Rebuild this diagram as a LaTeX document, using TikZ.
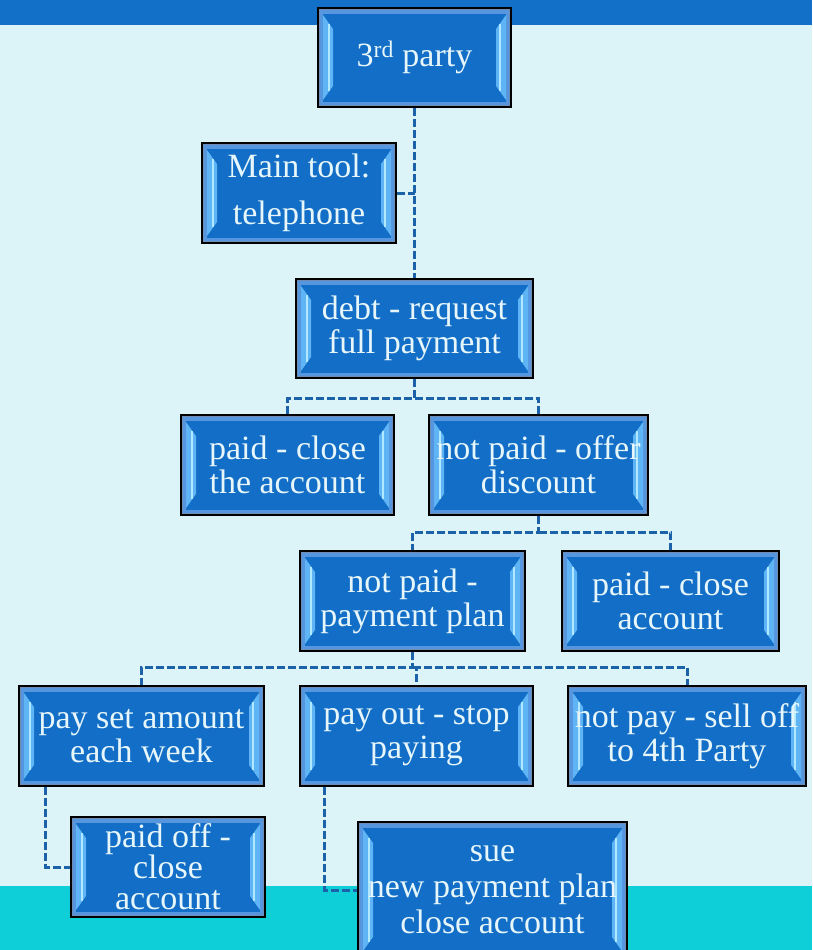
\documentclass[tikz,border=0pt]{standalone}
\usepackage{fontspec}
\setmainfont{Liberation Serif}
\usetikzlibrary{calc}

\definecolor{topband}{RGB}{18,112,200}
\definecolor{pagebg}{RGB}{220,244,248}
\definecolor{footband}{RGB}{14,206,216}
\definecolor{boxblue}{RGB}{18,110,198}
\definecolor{boxframe}{RGB}{110,140,180}
\definecolor{boxrim}{RGB}{85,150,222}
\definecolor{stripmid}{RGB}{95,180,245}
\definecolor{striplite}{RGB}{175,232,255}
\definecolor{boxtext}{RGB}{230,246,250}
\definecolor{linkblue}{RGB}{28,98,168}

\tikzset{
  bevbox/.style={
    draw=black, line width=2pt, fill=boxblue, text=boxtext,
    align=center, inner sep=0pt,
    font=\fontsize{34}{34}\selectfont,
    path picture={
      \coordinate (bnw) at (path picture bounding box.north west);
      \coordinate (bse) at (path picture bounding box.south east);
      \coordinate (bne) at (path picture bounding box.north east);
      \coordinate (bsw) at (path picture bounding box.south west);
      % frame and rim of the bevel
      \fill[boxframe] (bnw) rectangle (bse);
      \fill[boxrim] ([xshift=2pt,yshift=-2pt]bnw) rectangle ([xshift=-2pt,yshift=2pt]bse);
      \fill[boxblue] ([xshift=5pt,yshift=-6pt]bnw) rectangle ([xshift=-5pt,yshift=5pt]bse);
      % left bevel strip
      \fill[stripmid] ([xshift=5pt,yshift=-7pt]bnw) -- ([xshift=15pt,yshift=-21pt]bnw)
        -- ([xshift=15pt,yshift=21pt]bsw) -- ([xshift=5pt,yshift=7pt]bsw) -- cycle;
      \draw[striplite, line width=2.5pt] ([xshift=11pt,yshift=-16pt]bnw) -- ([xshift=11pt,yshift=16pt]bsw);
      % right bevel strip
      \fill[stripmid] ([xshift=-5pt,yshift=-7pt]bne) -- ([xshift=-15pt,yshift=-21pt]bne)
        -- ([xshift=-15pt,yshift=21pt]bse) -- ([xshift=-5pt,yshift=7pt]bse) -- cycle;
      \draw[striplite, line width=2.5pt] ([xshift=-11pt,yshift=-16pt]bne) -- ([xshift=-11pt,yshift=16pt]bse);
    }
  },
  link/.style={draw=linkblue, line width=3pt, dash pattern=on 8pt off 3pt}
}

\begin{document}
\begin{tikzpicture}[x=1pt,y=-1pt]
  \useasboundingbox (0,0) rectangle (812,950);
  \clip (0,0) rectangle (812,950);

  % page background
  \fill[pagebg] (0,0) rectangle (812,950);
  \fill[topband] (0,0) rectangle (812,25);
  \fill[footband] (0,886) rectangle (812,950);

  % boxes
  \node[bevbox, minimum width=193pt, minimum height=99pt] (third) at (414.5,57.5) {3\textsuperscript{rd} party};
  \node[bevbox, minimum width=194pt, minimum height=100pt] (tool) at (299,193) {Main tool:\\[13pt]telephone};
  \node[bevbox, minimum width=237pt, minimum height=99pt] (debt) at (414.5,328.5) {debt - request\\full payment};
  \node[bevbox, minimum width=213pt, minimum height=100pt] (pca) at (287.5,465) {paid - close\\the account};
  \node[bevbox, minimum width=219pt, minimum height=100pt] (npd) at (538.5,465) {not paid - offer\\discount};
  \node[bevbox, minimum width=225pt, minimum height=100pt] (npp) at (412.5,601) {not paid -\\payment plan};
  \node[bevbox, minimum width=217pt, minimum height=100pt] (pcl) at (670.5,601) {paid - close\\account};
  \node[bevbox, minimum width=245pt, minimum height=100pt] (set) at (141.5,736) {pay set amount\\each week};
  \node[bevbox, minimum width=233pt, minimum height=100pt] (pout) at (416.5,736) {pay out - stop\\paying};
  \node[bevbox, minimum width=238pt, minimum height=100pt] (sell) at (687,736) {not pay - sell off\\to 4th Party};
  \node[bevbox, minimum width=194pt, minimum height=100pt, font=\fontsize{34}{31}\selectfont] (off) at (168,867) {paid off -\\close\\account};
  \node[bevbox, minimum width=269pt, minimum height=136pt, font=\fontsize{34}{36}\selectfont] (sue) at (492.5,890) {sue\\new payment plan\\close account};

  % connectors
  \draw[link] (third.south) -- (debt.north);
  \draw[link] (tool.east) -- (tool.east -| third.south);
  \draw[link] (debt.south) -- (debt.south |- 0,398) -| (pca.north);
  \draw[link] (debt.south |- 0,398) -| (npd.north);
  \draw[link] (npd.south) -- (npd.south |- 0,532) -| (npp.north);
  \draw[link] (npd.south |- 0,532) -| (pcl.north);
  \draw[link] (npp.south) -- (npp.south |- 0,667) -| (set.north);
  \draw[link] (npp.south |- 0,667) -| (pout.north);
  \draw[link] (npp.south |- 0,667) -| (sell.north);
  \draw[link] (set.south -| 45,0) |- (off.west);
  \draw[link] (pout.south -| 324,0) |- (sue.west);
\end{tikzpicture}
\end{document}
